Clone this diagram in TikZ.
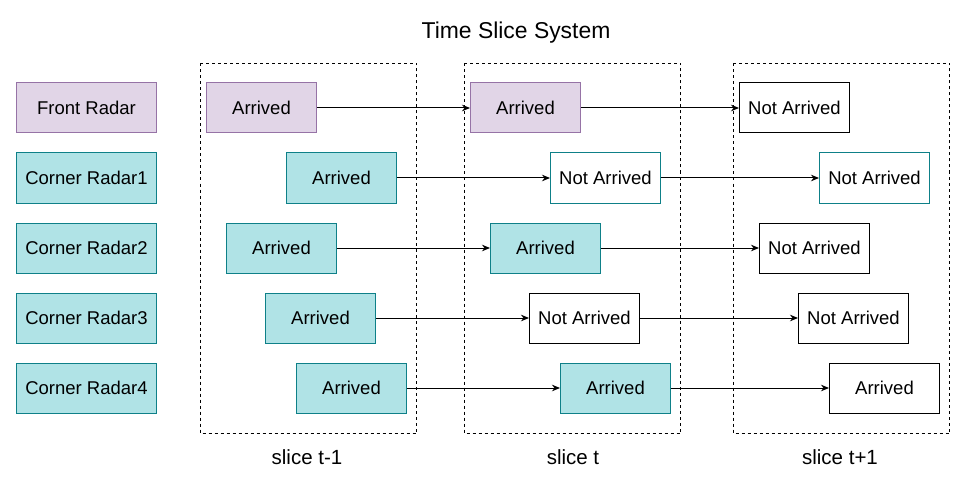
\documentclass[tikz,border=0pt]{standalone}
\usepackage{fontspec}
\setmainfont{Liberation Sans}
\usetikzlibrary{arrows.meta}
\definecolor{pfill}{HTML}{E1D5E7}
\definecolor{pdraw}{HTML}{9673A6}
\definecolor{tfill}{HTML}{B0E3E6}
\definecolor{tdraw}{HTML}{0E8088}
\tikzset{
  box/.style={draw, line width=1pt, minimum width=110pt, minimum height=50pt, inner sep=0pt, anchor=west, font=\fontsize{18.5}{22}\selectfont},
  radar/.style={box, minimum width=140pt},
  purp/.style={fill=pfill, draw=pdraw},
  teal/.style={fill=tfill, draw=tdraw},
  tealw/.style={fill=white, draw=tdraw},
  plain/.style={fill=white, draw=black},
  slicebox/.style={draw, line width=0.8pt, dash pattern=on 3pt off 3pt},
  slicelabel/.style={font=\fontsize{20.5}{24}\selectfont},
  conn/.style={line width=1pt, -{Stealth[length=8pt, width=6.5pt, inset=2.5pt]}}
}
\begin{document}
\begin{tikzpicture}[x=1pt, y=-1pt]
\useasboundingbox (0,0) rectangle (968,489);
% title
\node[font=\fontsize{22.9}{27}\selectfont] (title) at (516,33) {Time Slice System};
% slice frames
\draw[slicebox] (200.5,63.5) rectangle (416.5,433.5);
\draw[slicebox] (464.5,63.5) rectangle (680.5,433.5);
\draw[slicebox] (733.5,63.5) rectangle (949.5,433.5);
\node[slicelabel] (l1) at (307,457) {slice t-1};
\node[slicelabel] (l2) at (573,457) {slice t};
\node[slicelabel] (l3) at (840,457) {slice t+1};
% radar labels
\node[radar, purp] (r0) at (16,108) {Front Radar};
\node[radar, teal] (r1) at (16,178) {Corner Radar1};
\node[radar, teal] (r2) at (16,248) {Corner Radar2};
\node[radar, teal] (r3) at (16,318) {Corner Radar3};
\node[radar, teal] (r4) at (16,388) {Corner Radar4};
% slice t-1
\node[box, purp] (a0) at (206,108) {Arrived};
\node[box, teal] (a1) at (286,178) {Arrived};
\node[box, teal] (a2) at (226,248) {Arrived};
\node[box, teal] (a3) at (265,318) {Arrived};
\node[box, teal] (a4) at (296,388) {Arrived};
% slice t
\node[box, purp] (b0) at (470,108) {Arrived};
\node[box, tealw] (b1) at (550,178) {Not Arrived};
\node[box, teal] (b2) at (490,248) {Arrived};
\node[box, plain] (b3) at (529,318) {Not Arrived};
\node[box, teal] (b4) at (560,388) {Arrived};
% slice t+1
\node[box, plain] (c0) at (739,108) {Not Arrived};
\node[box, tealw] (c1) at (819,178) {Not Arrived};
\node[box, plain] (c2) at (759,248) {Not Arrived};
\node[box, plain] (c3) at (798,318) {Not Arrived};
\node[box, plain] (c4) at (829,388) {Arrived};
% connectors
\foreach \i in {0,...,4}{
  \draw[conn] (a\i.east) -- (b\i.west);
  \draw[conn] (b\i.east) -- (c\i.west);
}
\end{tikzpicture}
\end{document}
